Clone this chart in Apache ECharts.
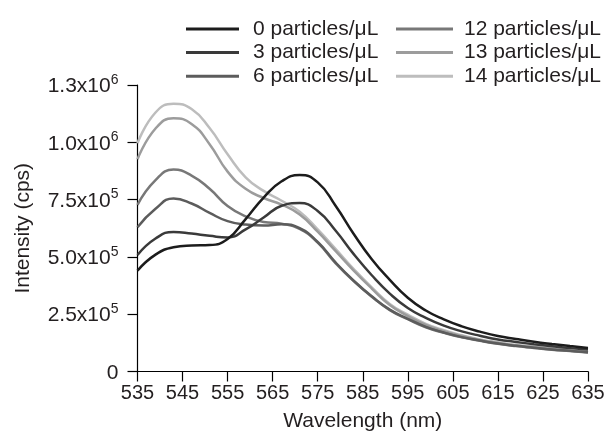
<!DOCTYPE html>
<html>
<head>
<meta charset="utf-8">
<script src="https://cdn.jsdelivr.net/npm/echarts@6/dist/echarts.min.js"></script>
<style>
html,body{margin:0;padding:0;background:#fff;}
#chart{width:608px;height:443px;}
</style>
</head>
<body>
<div id="chart"></div>
<script>
var wavelengths = [535, 539, 543, 547, 551, 555, 559, 563, 567, 571, 575, 579, 583, 587, 591, 595, 599, 603, 607, 611, 615, 619, 623, 627, 631, 635];

var s0  = [440000, 510000, 542000, 550000, 552000, 578000, 665000, 759000, 830000, 857000, 825000, 722000, 600000, 490000, 400000, 322000, 266000, 227000, 197000, 174000, 155000, 142000, 130000, 120000, 111000, 103000];
var s3  = [508000, 580000, 609000, 602000, 592000, 585000, 620000, 672000, 723000, 735000, 700000, 614000, 512000, 420000, 340000, 277000, 234000, 200000, 175000, 156000, 140000, 129000, 119000, 110000, 102000, 96000];
var s6  = [629000, 710000, 755000, 733000, 692000, 656000, 641000, 637000, 642000, 625000, 565000, 475000, 396000, 328000, 270000, 230000, 195000, 170000, 150000, 135000, 122000, 112000, 104000, 96000, 90000, 84000];
var s12 = [727000, 835000, 881000, 855000, 797000, 722000, 677000, 652000, 645000, 622000, 562000, 472000, 394000, 326000, 268000, 228000, 193000, 169000, 149000, 134000, 121000, 111000, 103000, 95000, 89000, 83000];
var s13 = [926000, 1060000, 1105000, 1080000, 992000, 872000, 797000, 757000, 728000, 685000, 610000, 525000, 440000, 362000, 290000, 242000, 203000, 176000, 155000, 138000, 125000, 114000, 106000, 98000, 91000, 85000];
var s14 = [996000, 1130000, 1168000, 1145000, 1062000, 948000, 847000, 788000, 745000, 697000, 620000, 534000, 447000, 367000, 295000, 248000, 208000, 180000, 158000, 140000, 127000, 116000, 108000, 100000, 93000, 86000];

var seriesNames = ['0 particles/\u03bcL', '3 particles/\u03bcL', '6 particles/\u03bcL', '12 particles/\u03bcL', '13 particles/\u03bcL', '14 particles/\u03bcL'];
var seriesValues = [s0, s3, s6, s12, s13, s14];

var xTickValues = [535, 545, 555, 565, 575, 585, 595, 605, 615, 625, 635];
var yTickValues = [0, 250000, 500000, 750000, 1000000, 1250000];
var yTickLabels = ['0', '2.5x10^5', '5.0x10^5', '7.5x10^5', '1.0x10^6', '1.3x10^6'];

var xTitle = 'Wavelength (nm)';
var yTitle = 'Intensity (cps)';

var colors = ['#1c1c1c', '#3a3a3a', '#5c5c5c', '#787878', '#9c9c9c', '#bdbdbd'];
var FONT = '"Liberation Sans", Arial, Helvetica, sans-serif';
var TXT = '#231f20';

function yLabel(v) {
  var idx = yTickValues.indexOf(v);
  if (idx < 0) return '';
  var t = yTickLabels[idx];
  var p = t.split('^');
  if (p.length === 1) return '{b|' + p[0] + '}';
  return '{b|' + p[0] + '}{s|' + p[1] + '}';
}

var chart = echarts.init(document.getElementById('chart'), null, {renderer: 'canvas'});

var series = seriesNames.map(function (name, i) {
  return {
    name: name,
    type: 'line',
    smooth: 0.5,
    showSymbol: false,
    symbol: 'none',
    lineStyle: {width: 2.5, color: colors[i]},
    itemStyle: {color: colors[i]},
    z: 10 - i,
    data: wavelengths.map(function (w, k) { return [w, seriesValues[i][k]]; })
  };
});

function legendCfg(names, left, iw, pad) {
  return {
    data: names.map(function (n) { return {name: n, icon: 'rect'}; }),
    orient: 'vertical',
    left: left,
    top: 13,
    itemWidth: iw,
    itemHeight: 3,
    itemGap: 1.6,
    selectedMode: false,
    textStyle: {fontFamily: FONT, fontSize: 21, color: TXT, lineHeight: 22, padding: [0, 0, 0, pad]}
  };
}

chart.setOption({
  animation: false,
  color: colors,
  textStyle: {fontFamily: FONT},
  legend: [
    legendCfg(seriesNames.slice(0, 3), 181, 53, 9),
    legendCfg(seriesNames.slice(3, 6), 391, 57, 6)
  ],
  grid: {left: 137.5, right: 20, top: 85, bottom: 71.5, containLabel: false},
  xAxis: {
    type: 'value',
    min: 535,
    max: 635,
    name: xTitle,
    nameLocation: 'middle',
    nameGap: 39,
    nameTextStyle: {fontFamily: FONT, fontSize: 21, color: TXT},
    axisLine: {show: true, lineStyle: {color: '#000', width: 1.2}},
    axisTick: {show: true, inside: false, length: 10, customValues: xTickValues, lineStyle: {color: '#000', width: 1.2}},
    axisLabel: {show: true, margin: 12, fontSize: 20, fontFamily: FONT, color: TXT, customValues: xTickValues},
    splitLine: {show: false}
  },
  yAxis: {
    type: 'value',
    min: 0,
    max: 1250000,
    interval: 250000,
    name: yTitle,
    nameLocation: 'middle',
    nameGap: 104,
    nameTextStyle: {fontFamily: FONT, fontSize: 21, color: TXT},
    axisLine: {show: true, lineStyle: {color: '#000', width: 1.2}},
    axisTick: {show: true, inside: false, length: 10, lineStyle: {color: '#000', width: 1.2}},
    axisLabel: {
      show: true,
      margin: 19,
      formatter: yLabel,
      rich: {
        b: {fontSize: 21, fontFamily: FONT, color: TXT, lineHeight: 24, verticalAlign: 'bottom'},
        s: {fontSize: 14, fontFamily: FONT, color: TXT, lineHeight: 24, verticalAlign: 'top'}
      }
    },
    splitLine: {show: false}
  },
  series: series
});
</script>
</body>
</html>
